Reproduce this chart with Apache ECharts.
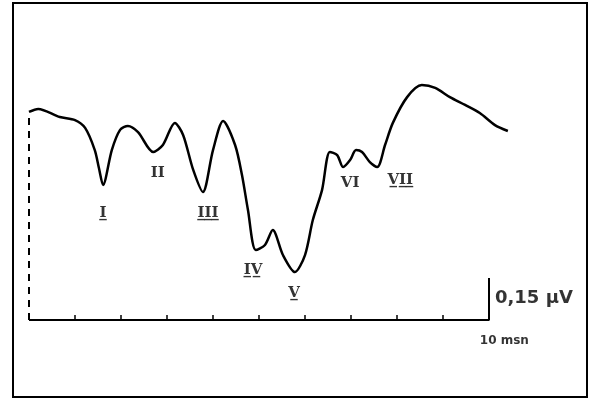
<!DOCTYPE html>
<html>
<head>
<meta charset="UTF-8">
<script src="https://cdn.jsdelivr.net/npm/echarts@6/dist/echarts.min.js"></script>
<title>ABR</title>
<style>
  body { margin: 0; background: #fff; }
  #chart { width: 590px; height: 400px; }
</style>
</head>
<body>
<div id="chart"></div>
<script>
  // dalga formu: zaman (ms), genlik (µV)
  const waveTime = [0, 0.2, 0.67, 1.0, 1.22, 1.43, 1.52, 1.61, 1.80, 1.98, 2.15, 2.37, 2.70, 2.91, 3.17, 3.35, 3.57, 3.78,
    4.0, 4.22, 4.48, 4.63, 4.76, 4.93, 5.13, 5.30, 5.52, 5.78, 6.0, 6.17, 6.37, 6.54, 6.70, 6.83, 6.98, 7.11, 7.24,
    7.41, 7.57, 7.74, 7.91, 8.22, 8.54, 8.83, 9.15, 9.48, 9.80, 10.13, 10.41];
  const waveAmp = [0.743, 0.754, 0.725, 0.714, 0.686, 0.607, 0.543, 0.482, 0.607, 0.679, 0.693, 0.671, 0.600, 0.625, 0.704, 0.661, 0.536, 0.457,
    0.607, 0.711, 0.625, 0.518, 0.393, 0.250, 0.268, 0.321, 0.232, 0.171, 0.232, 0.357, 0.464, 0.600, 0.589, 0.546, 0.571, 0.607, 0.600,
    0.564, 0.546, 0.625, 0.704, 0.796, 0.839, 0.829, 0.796, 0.768, 0.739, 0.696, 0.675];

  // dalga isimleri
  const peakNames = ['I\u0332', 'II', 'I\u0332I\u0332I\u0332', 'I\u0332V\u0332', 'V\u0332', 'VI', 'V\u0332I\u0332I\u0332'];
  const peakTime = [1.61, 2.80, 3.89, 4.87, 5.76, 6.98, 8.07];
  const peakAmp = [0.382, 0.525, 0.382, 0.179, 0.096, 0.489, 0.50];

  // zaman ekseni ve kalibrasyon
  const tickValues = [0, 1, 2, 3, 4, 5, 6, 7, 8, 9, 10];
  const baseTime = [0, 10, 10];
  const baseAmp = [0, 0, 0.15];
  const stimTime = [0, 0];
  const stimAmp = [0, 0.743];
  const scaleNames = ['0,15 µV', '10 msn'];
  const scaleTime = [10.13, 9.8];
  const scaleAmp = [0.079, -0.075];

  const zip = (a, b) => a.map((v, i) => [v, b[i]]);

  var chart = echarts.init(document.getElementById('chart'));

  var option = {
    animation: false,
    backgroundColor: '#fff',
    grid: { left: 29, right: 55, top: 68, bottom: 10 },
    xAxis: {
      type: 'value',
      min: 0,
      max: 11,
      axisLine: { show: false },
      splitLine: { show: false },
      axisLabel: { show: false },
      axisTick: { show: true, inside: true, length: 5, customValues: tickValues,
        lineStyle: { color: '#000', width: 1.5 } }
    },
    yAxis: {
      type: 'value',
      min: -0.25,
      max: 0.9,
      show: false
    },
    graphic: [
      { type: 'rect', shape: { x: 13, y: 3, width: 574, height: 394 },
        style: { fill: 'none', stroke: '#000', lineWidth: 2 } }
    ],
    series: [
      {
        type: 'line',
        data: zip(waveTime, waveAmp),
        smooth: 0.28,
        showSymbol: false,
        lineStyle: { color: '#000', width: 2.5 }
      },
      {
        type: 'line',
        data: zip(baseTime, baseAmp),
        showSymbol: false,
        lineStyle: { color: '#000', width: 2 }
      },
      {
        type: 'line',
        data: zip(stimTime, stimAmp),
        showSymbol: false,
        lineStyle: { color: '#000', width: 2, type: [7, 6] }
      },
      {
        type: 'scatter',
        symbolSize: 0,
        clip: false,
        data: zip(peakTime, peakAmp).map((p, i) => ({ value: p, name: peakNames[i] })),
        label: {
          show: true, position: 'inside', formatter: '{b}',
          fontFamily: 'DejaVu Serif', fontWeight: 'bold', fontSize: 15, color: '#000'
        }
      },
      {
        type: 'scatter',
        symbolSize: 0,
        clip: false,
        data: zip(scaleTime, scaleAmp).map((p, i) => ({ value: p, name: scaleNames[i] })),
        label: {
          show: true, position: 'right', distance: 0, formatter: '{b}',
          fontFamily: 'DejaVu Sans', fontWeight: 'bold', color: '#000',
          rich: {}
        }
      }
    ]
  };

  // kalibrasyon yazilarinin boyutlari
  option.series[4].data[0].label = { fontSize: 18 };
  option.series[4].data[1].label = { fontSize: 12 };

  chart.setOption(option);
</script>
</body>
</html>
